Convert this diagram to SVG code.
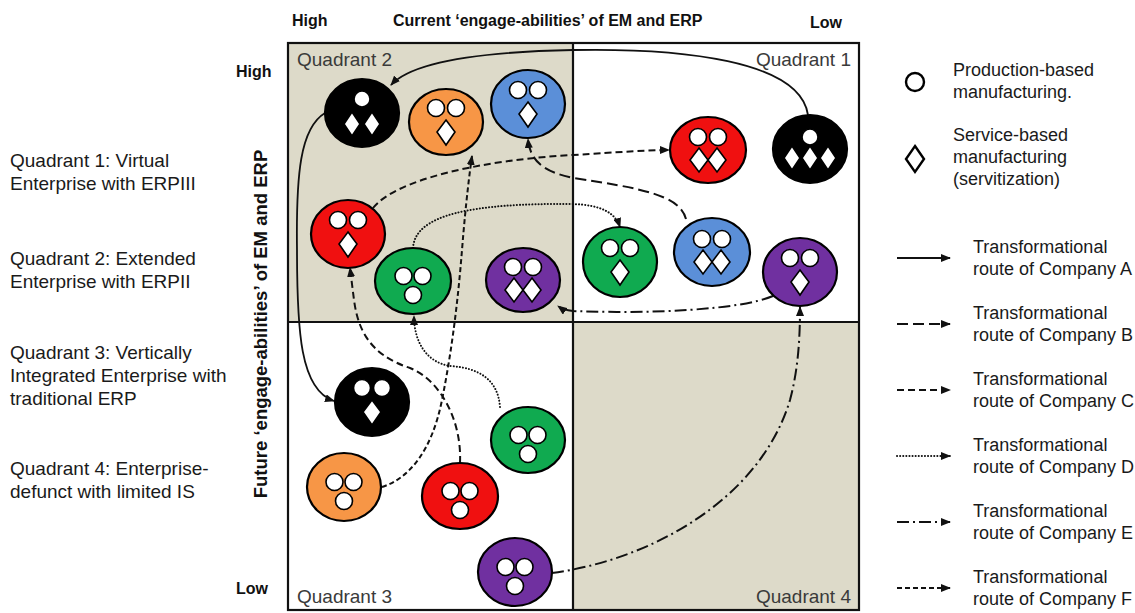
<svg xmlns="http://www.w3.org/2000/svg" xmlns:xlink="http://www.w3.org/1999/xlink" width="1135" height="613" viewBox="0 0 1135 613">
  <style>
    .txt { font-family: "Liberation Sans", Arial, sans-serif; fill: #1a1a1a; }
    .side { font-size: 19px; }
    .leg { font-size: 18px; }
    .axis { font-family: "Liberation Sans", Arial, sans-serif; font-weight: bold; fill: #111; font-size: 16px; }
    .quad { font-family: "Liberation Sans", Arial, sans-serif; font-size: 19px; fill: #3a3a3a; }
    .node { stroke: #000; stroke-width: 2.2; }
    .glyph { fill: #fff; stroke: #000; stroke-width: 1.6; }
    .route { fill: none; stroke: #111; stroke-width: 2; }
    .rA { stroke-width: 1.8; }
    .rB { stroke-dasharray: 11 5; }
    .rC { stroke-dasharray: 7 4; }
    .rD { stroke-dasharray: 0.1 3; stroke-linecap: round; stroke-width: 2; }
    .rE { stroke-dasharray: 12 4 2 4; }
    .rF { stroke-dasharray: 5 3; }
  </style>
  <defs>
    <marker id="arrow" viewBox="0 0 10 8" refX="9" refY="4" markerWidth="10" markerHeight="8" markerUnits="userSpaceOnUse" orient="auto">
      <path d="M0,0 L10,4 L0,8 z" fill="#111"/>
    </marker>
    <!-- glyph sets: c = production circle, d = service diamond -->
    <g id="c2d1">
      <circle class="glyph" cx="-10" cy="-14" r="8.5"/>
      <circle class="glyph" cx="10" cy="-14" r="8.5"/>
      <path class="glyph" d="M0,-2 L9,10 L0,23 L-9,10 z"/>
    </g>
    <g id="c2d2">
      <circle class="glyph" cx="-10" cy="-13" r="8.5"/>
      <circle class="glyph" cx="10" cy="-13" r="8.5"/>
      <path class="glyph" d="M-9,-2 L0,10 L-9,22 L-18,10 z"/>
      <path class="glyph" d="M9,-2 L18,10 L9,22 L0,10 z"/>
    </g>
    <g id="c3">
      <circle class="glyph" cx="-9.5" cy="-5" r="8.5"/>
      <circle class="glyph" cx="9.5" cy="-5" r="8.5"/>
      <circle class="glyph" cx="0" cy="14" r="8.5"/>
    </g>
    <g id="c1d2">
      <circle class="glyph" cx="0" cy="-14" r="8"/>
      <path class="glyph" d="M-10,-1 L-2,11 L-10,23 L-18,11 z"/>
      <path class="glyph" d="M10,-1 L18,11 L10,23 L2,11 z"/>
    </g>
    <g id="c1d3">
      <circle class="glyph" cx="0" cy="-12" r="8"/>
      <path class="glyph" d="M-18,-3 L-10,9 L-18,21 L-26,9 z"/>
      <path class="glyph" d="M0,-3 L8,9 L0,21 L-8,9 z"/>
      <path class="glyph" d="M18,-3 L26,9 L18,21 L10,9 z"/>
    </g>
  </defs>

  <rect width="1135" height="613" fill="#fff"/>

  <!-- quadrant grid -->
  <g id="grid">
    <rect x="288" y="43" width="285" height="279" fill="#dddac9"/>
    <rect x="573" y="322" width="286" height="288" fill="#dddac9"/>
    <rect x="288" y="43" width="571" height="567" fill="none" stroke="#111" stroke-width="2.2"/>
    <line x1="573" y1="43" x2="573" y2="610" stroke="#111" stroke-width="2.2"/>
    <line x1="288" y1="322" x2="859" y2="322" stroke="#111" stroke-width="2.2"/>
    <text class="quad" x="297" y="66">Quadrant 2</text>
    <text class="quad" x="851" y="66" text-anchor="end">Quadrant 1</text>
    <text class="quad" x="297" y="603">Quadrant 3</text>
    <text class="quad" x="851" y="603" text-anchor="end">Quadrant 4</text>
  </g>

  <!-- axis labels -->
  <g id="axes">
    <text class="axis" x="292" y="26">High</text>
    <text class="axis" x="393" y="26">Current ‘engage-abilities’ of EM and ERP</text>
    <text class="axis" x="810" y="28">Low</text>
    <text class="axis" x="236" y="77">High</text>
    <text class="axis" x="236" y="594">Low</text>
    <text class="axis" transform="translate(267,324) rotate(-90)" text-anchor="middle" style="font-size:18.5px">Future ‘engage-abilities’ of EM and ERP</text>
  </g>

  <!-- quadrant descriptions -->
  <g id="descriptions" class="txt side">
    <text x="10" y="167">Quadrant 1: Virtual</text>
    <text x="10" y="190">Enterprise with ERPIII</text>
    <text x="10" y="265">Quadrant 2: Extended</text>
    <text x="10" y="288">Enterprise with ERPII</text>
    <text x="10" y="359">Quadrant 3: Vertically</text>
    <text x="10" y="382">Integrated Enterprise with</text>
    <text x="10" y="405">traditional ERP</text>
    <text x="10" y="475">Quadrant 4: Enterprise-</text>
    <text x="10" y="498">defunct with limited IS</text>
  </g>

  <!-- transformational routes -->
  <g id="connectors">
    <path class="route rA" d="M808,115 C800,60 680,48 573,50 C470,52 410,64 391,85" marker-end="url(#arrow)"/>
    <path class="route rA" d="M325,113 C300,128 296,175 297,250 C297,330 300,390 334,401" marker-end="url(#arrow)"/>
    <path class="route rB" d="M686,219 C680,195 640,188 573,178 C545,172 530,162 528,139" marker-end="url(#arrow)"/>
    <path class="route rC" d="M373,208 C395,180 480,160 573,155 C620,152 650,150 669,150" marker-end="url(#arrow)"/>
    <path class="route rC" d="M460,463 C462,420 440,380 410,368 C370,355 358,330 354,300 L350,268" marker-end="url(#arrow)"/>
    <path class="route rD" d="M413,248 C415,215 470,203 573,204 C600,205 615,212 620,227" marker-end="url(#arrow)"/>
    <path class="route rD" d="M500,407 C498,380 480,368 450,366 C425,362 414,340 414,316" marker-end="url(#arrow)"/>
    <path class="route rE" d="M552,573 C650,560 760,500 790,400 C798,370 800,340 800,307" marker-end="url(#arrow)"/>
    <path class="route rE" d="M773,296 C740,310 650,314 573,311 C566,310 562,309 558,306" marker-end="url(#arrow)"/>
    <path class="route rF" d="M382,487 C410,478 432,450 442,400 C452,350 458,300 462,250 C466,200 470,170 472,156" marker-end="url(#arrow)"/>
  </g>

  <!-- companies: Quadrant 2 -->
  <g id="n-black-q2"><ellipse class="node" cx="362" cy="113" rx="37" ry="34" fill="#000"/><use href="#c1d2" x="362" y="113"/></g>
  <g id="n-orange-q2"><ellipse class="node" cx="446" cy="122" rx="37" ry="33" fill="#f79646"/><use href="#c2d1" x="446" y="122"/></g>
  <g id="n-blue-q2"><ellipse class="node" cx="528" cy="104" rx="37" ry="34" fill="#5b8fd8"/><use href="#c2d1" x="528" y="104"/></g>
  <g id="n-red-q2"><ellipse class="node" cx="348" cy="234" rx="37" ry="34" fill="#f01010"/><use href="#c2d1" x="348" y="234"/></g>
  <g id="n-green-q2"><ellipse class="node" cx="413" cy="281" rx="38" ry="33" fill="#10aa50"/><use href="#c3" x="413" y="281"/></g>
  <g id="n-purple-q2"><ellipse class="node" cx="523" cy="280" rx="37" ry="32" fill="#7030a0"/><use href="#c2d2" x="523" y="280"/></g>

  <!-- companies: Quadrant 1 -->
  <g id="n-red-q1"><ellipse class="node" cx="708" cy="150" rx="38" ry="33" fill="#f01010"/><use href="#c2d2" x="708" y="150"/></g>
  <g id="n-black-q1"><ellipse class="node" cx="810" cy="149" rx="37" ry="34" fill="#000"/><use href="#c1d3" x="810" y="149"/></g>
  <g id="n-green-q1"><ellipse class="node" cx="620" cy="262" rx="37" ry="35" fill="#10aa50"/><use href="#c2d1" x="620" y="262"/></g>
  <g id="n-blue-q1"><ellipse class="node" cx="712" cy="252" rx="38" ry="34" fill="#5b8fd8"/><use href="#c2d2" x="712" y="252"/></g>
  <g id="n-purple-q1"><ellipse class="node" cx="800" cy="272" rx="37" ry="34" fill="#7030a0"/><use href="#c2d1" x="800" y="272"/></g>

  <!-- companies: Quadrant 3 -->
  <g id="n-black-q3"><ellipse class="node" cx="372" cy="402" rx="37" ry="34" fill="#000"/><use href="#c2d1" x="372" y="402"/></g>
  <g id="n-orange-q3"><ellipse class="node" cx="344" cy="487" rx="37" ry="34" fill="#f79646"/><use href="#c3" x="344" y="487"/></g>
  <g id="n-red-q3"><ellipse class="node" cx="460" cy="496" rx="38" ry="33" fill="#f01010"/><use href="#c3" x="460" y="496"/></g>
  <g id="n-green-q3"><ellipse class="node" cx="528" cy="440" rx="37" ry="33" fill="#10aa50"/><use href="#c3" x="528" y="440"/></g>
  <g id="n-purple-q3"><ellipse class="node" cx="515" cy="572" rx="37" ry="34" fill="#7030a0"/><use href="#c3" x="515" y="572"/></g>

  <!-- legend -->
  <g id="legend" class="txt leg">
    <circle cx="915" cy="82" r="9" fill="#fff" stroke="#000" stroke-width="2.4"/>
    <text x="953" y="76">Production-based</text>
    <text x="953" y="98">manufacturing.</text>
    <path d="M915,146 L924,159 L915,172 L906,159 z" fill="#fff" stroke="#000" stroke-width="2.4"/>
    <text x="953" y="141">Service-based</text>
    <text x="953" y="163">manufacturing</text>
    <text x="953" y="185">(servitization)</text>

    <line class="route rA" x1="897" y1="258" x2="950" y2="258" marker-end="url(#arrow)"/>
    <text x="973" y="253">Transformational</text>
    <text x="973" y="275">route of Company A</text>

    <line class="route rB" x1="897" y1="324" x2="950" y2="324" marker-end="url(#arrow)"/>
    <text x="973" y="319">Transformational</text>
    <text x="973" y="341">route of Company B</text>

    <line class="route rC" x1="897" y1="390" x2="950" y2="390" marker-end="url(#arrow)"/>
    <text x="973" y="385">Transformational</text>
    <text x="973" y="407">route of Company C</text>

    <line class="route rD" x1="897" y1="456" x2="950" y2="456" marker-end="url(#arrow)"/>
    <text x="973" y="451">Transformational</text>
    <text x="973" y="473">route of Company D</text>

    <line class="route rE" x1="897" y1="522" x2="950" y2="522" marker-end="url(#arrow)"/>
    <text x="973" y="517">Transformational</text>
    <text x="973" y="539">route of Company E</text>

    <line class="route rF" x1="897" y1="588" x2="950" y2="588" marker-end="url(#arrow)"/>
    <text x="973" y="583">Transformational</text>
    <text x="973" y="605">route of Company F</text>
  </g>
</svg>
